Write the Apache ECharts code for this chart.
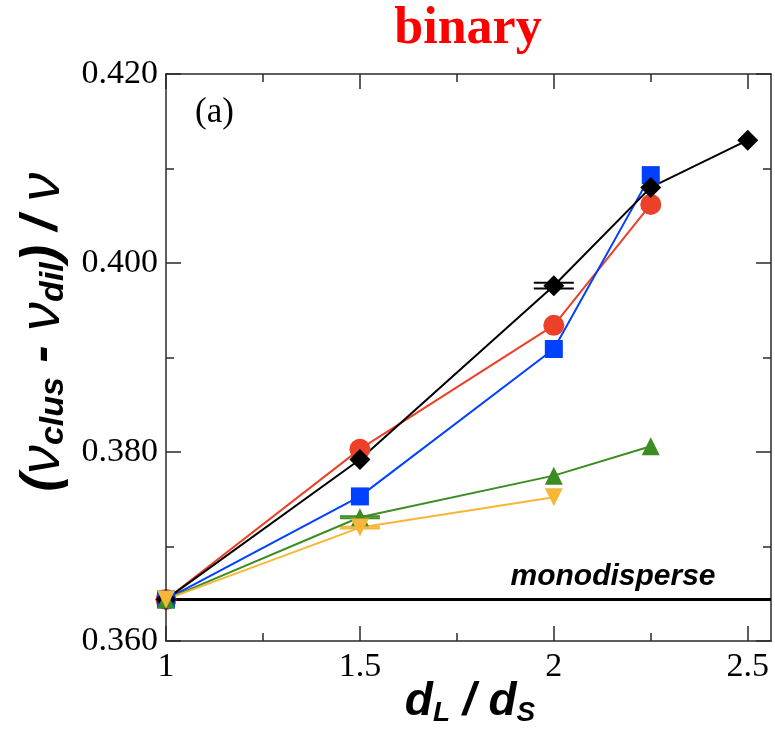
<!DOCTYPE html>
<html>
<head>
<meta charset="utf-8">
<script src="https://cdn.jsdelivr.net/npm/echarts@6/dist/echarts.min.js"></script>
<style>
  html, body { margin: 0; padding: 0; background: #fff; }
  #chart { width: 775px; height: 739px; }
</style>
</head>
<body>
<div id="chart"></div>
<script>
// Size ratio d_L / d_S for each simulated mixture
const ratios = [1, 1.5, 2, 2.25, 2.5];

// Cluster-minus-dilute fraction, one list per series (aligned with ratios)
const seriesBlack  = [0.3644, 0.3792, 0.3976, 0.4080, 0.4130];
const seriesRed    = [0.3644, 0.3803, 0.3934, 0.4062];
const seriesBlue   = [0.3644, 0.3753, 0.3909, 0.4093];
const seriesGreen  = [0.3644, 0.3731, 0.3775, 0.3806];
const seriesYellow = [0.3644, 0.3720, 0.3752];

// Half-widths of the error bars (0 = no bar drawn)
const errBlack  = [0, 0, 0.0003, 0, 0];
const errGreen  = [0, 0.0001, 0, 0];
const errYellow = [0, 0.0001, 0];

// Reference level of the monodisperse system
const monodisperse = 0.3644;

// Axis ranges and ticks
const xMin = 1, xMax = 2.56;
const xMajorTicks = [1, 1.5, 2, 2.5];
const xMinorTicks = [1.25, 1.75, 2.25];
const yMin = 0.36, yMax = 0.42, yStep = 0.02;

const C_BLACK = '#000000';
const C_RED = '#ec4028';
const C_BLUE = '#0040ff';
const C_GREEN = '#3c8c23';
const C_YELLOW = '#f7b638';

const AXIS_COLOR = '#2a2a2a';
const SERIF = '"Liberation Serif", "Times New Roman", serif';
const SANS = '"Liberation Sans", Arial, Helvetica, sans-serif';

function pairs(values) {
  return values.map((v, i) => [ratios[i], v]);
}
function errTriples(values, errs) {
  const out = [];
  values.forEach((v, i) => { if (errs[i] > 0) out.push([ratios[i], v, errs[i]]); });
  return out;
}

function lineSeries(name, values, color, symbol, size, rotate) {
  return {
    name: name,
    type: 'line',
    data: pairs(values),
    symbol: symbol,
    symbolSize: size,
    symbolRotate: rotate || 0,
    showAllSymbol: true,
    lineStyle: { color: color, width: 2 },
    itemStyle: { color: color, opacity: 1 },
    emphasis: { disabled: true },
    animation: false,
    z: 3
  };
}

function errorSeries(values, errs, color) {
  return {
    type: 'custom',
    data: errTriples(values, errs),
    z: 2,
    animation: false,
    renderItem: function (params, api) {
      const x = api.value(0), y = api.value(1), e = api.value(2);
      const hi = api.coord([x, y + e]);
      const lo = api.coord([x, y - e]);
      const hw = 20;
      const st = { stroke: color, lineWidth: 2 };
      return {
        type: 'group',
        children: [
          { type: 'line', shape: { x1: hi[0] - hw, y1: hi[1], x2: hi[0] + hw, y2: hi[1] }, style: st },
          { type: 'line', shape: { x1: lo[0] - hw, y1: lo[1], x2: lo[0] + hw, y2: lo[1] }, style: st },
          { type: 'line', shape: { x1: hi[0], y1: hi[1], x2: lo[0], y2: lo[1] }, style: st }
        ]
      };
    }
  };
}

function xAxisDef(position, ticks, length, showLine, showLabels) {
  return {
    type: 'value',
    position: position,
    min: xMin,
    max: xMax,
    axisLine: { show: showLine, onZero: false, lineStyle: { color: AXIS_COLOR, width: 1.5 } },
    axisTick: { show: true, inside: true, length: length, customValues: ticks,
                lineStyle: { color: AXIS_COLOR, width: 1.5 } },
    axisLabel: showLabels ? {
      show: true, customValues: ticks, margin: 9,
      fontFamily: SERIF, fontSize: 34, color: '#000',
      formatter: v => String(v)
    } : { show: false },
    splitLine: { show: false }
  };
}

function yAxisDef(position, showLabels) {
  return {
    type: 'value',
    position: position,
    min: yMin,
    max: yMax,
    interval: yStep,
    axisLine: { show: true, onZero: false, lineStyle: { color: AXIS_COLOR, width: 1.5 } },
    axisTick: { show: true, inside: true, length: 15, lineStyle: { color: AXIS_COLOR, width: 1.5 } },
    minorTick: { show: true, splitNumber: 2, length: 8, lineStyle: { color: AXIS_COLOR, width: 1.5 } },
    axisLabel: showLabels ? {
      show: true, margin: 8,
      fontFamily: SERIF, fontSize: 34, color: '#000',
      formatter: v => v.toFixed(3)
    } : { show: false },
    splitLine: { show: false },
    minorSplitLine: { show: false }
  };
}

const chart = echarts.init(document.getElementById('chart'), null, { renderer: 'canvas' });

const xTitleRich = {
  m: { fontFamily: SANS, fontStyle: 'italic', fontWeight: 'bold', fontSize: 46, lineHeight: 50, fill: '#000' },
  s: { fontFamily: SANS, fontStyle: 'italic', fontWeight: 'bold', fontSize: 28, lineHeight: 8, verticalAlign: 'bottom', fill: '#000' }
};
const yTitleRich = {
  m: { fontFamily: SANS, fontStyle: 'italic', fontWeight: 'bold', fontSize: 52, lineHeight: 56, fill: '#000' },
  g: { fontFamily: SANS, fontStyle: 'italic', fontWeight: 'normal', fontSize: 58, lineHeight: 56, fill: '#000' },
  s: { fontFamily: SANS, fontStyle: 'italic', fontWeight: 'bold', fontSize: 34, lineHeight: 10, verticalAlign: 'bottom', fill: '#000' }
};

chart.setOption({
  backgroundColor: '#ffffff',
  animation: false,
  grid: { left: 166, right: 4, top: 74, bottom: 98, containLabel: false },
  xAxis: [
    xAxisDef('bottom', xMajorTicks, 15, true, true),
    xAxisDef('bottom', xMinorTicks, 8, false, false),
    xAxisDef('top', xMajorTicks, 15, true, false),
    xAxisDef('top', xMinorTicks, 8, false, false)
  ],
  yAxis: [
    yAxisDef('left', true),
    yAxisDef('right', false)
  ],
  series: [
    {
      name: 'monodisperse',
      type: 'line',
      data: [[xMin, monodisperse], [xMax, monodisperse]],
      symbol: 'none',
      lineStyle: { color: '#000', width: 3 },
      emphasis: { disabled: true },
      animation: false,
      z: 1
    },
    errorSeries(seriesBlack, errBlack, C_BLACK),
    errorSeries(seriesGreen, errGreen, C_GREEN),
    errorSeries(seriesYellow, errYellow, C_YELLOW),
    lineSeries('red', seriesRed, C_RED, 'circle', 21),
    lineSeries('blue', seriesBlue, C_BLUE, 'rect', 18),
    lineSeries('black', seriesBlack, C_BLACK, 'diamond', 21),
    lineSeries('green', seriesGreen, C_GREEN, 'triangle', 18),
    lineSeries('yellow', seriesYellow, C_YELLOW, 'triangle', 18, 180)
  ],
  graphic: [
    {
      type: 'text', x: 468, y: 30,
      style: {
        text: 'binary', fill: '#ff0000',
        font: 'bold 52px ' + SERIF,
        textAlign: 'center', textVerticalAlign: 'middle'
      }
    },
    {
      type: 'text', x: 195, y: 113,
      style: {
        text: '(a)', fill: '#000',
        font: '35px ' + SERIF,
        textAlign: 'left', textVerticalAlign: 'middle'
      }
    },
    {
      type: 'text', x: 613, y: 577,
      style: {
        text: 'monodisperse', fill: '#000',
        font: 'italic bold 30px ' + SANS,
        textAlign: 'center', textVerticalAlign: 'middle'
      }
    },
    {
      type: 'text', x: 470, y: 702,
      style: {
        text: '{m|d}{s|L}{m| / d}{s|S}',
        textAlign: 'center', textVerticalAlign: 'middle',
        rich: xTitleRich
      }
    },
    {
      type: 'text', x: 43, y: 332, rotation: Math.PI / 2,
      style: {
        text: '{m|(}{g|ν}{s|clus}{m| - }{g|ν}{s|dil}{m|) / }{g|ν}',
        textAlign: 'center', textVerticalAlign: 'middle',
        rich: yTitleRich
      }
    }
  ]
});
</script>
</body>
</html>
